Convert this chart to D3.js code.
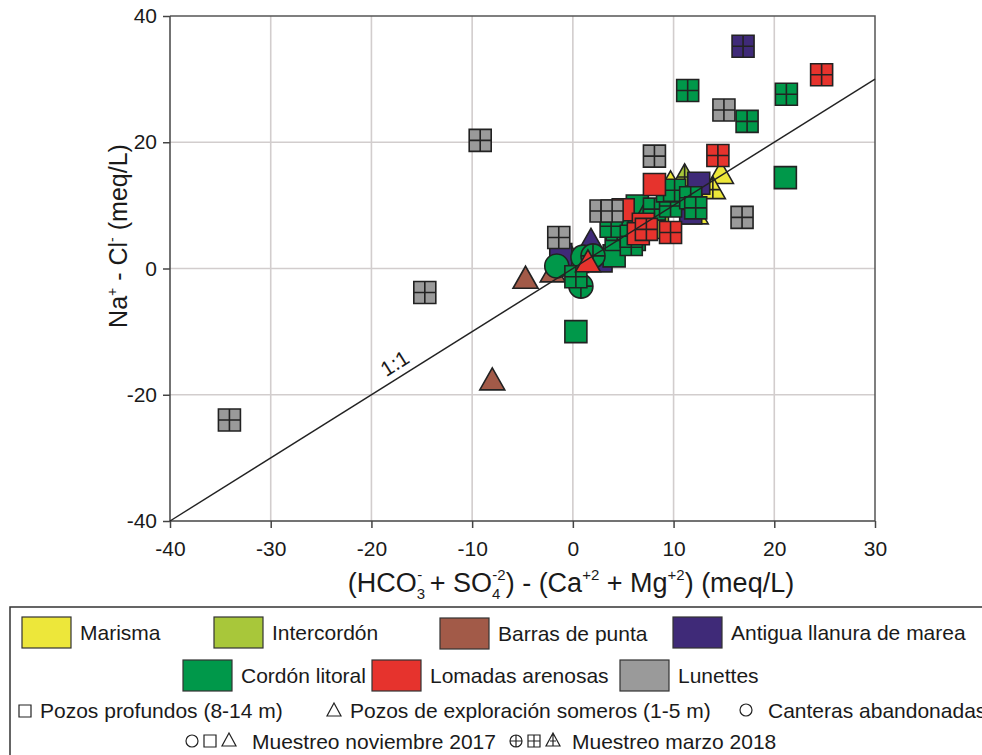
<!DOCTYPE html>
<html>
<head>
<meta charset="utf-8">
<script src="https://cdn.jsdelivr.net/npm/d3@7"></script>
<style>
  html, body { margin: 0; padding: 0; background: #fff; }
  svg { display: block; }
  text { font-family: "Liberation Sans", Arial, sans-serif; fill: #1a1a1a; }
  .tick text { font-size: 21px; }
</style>
</head>
<body>
<svg id="chart" width="982" height="755"></svg>
<script>
// Each sample: [x, y, well type, campaign]
//   x = (HCO3 + SO4) - (Ca + Mg), y = Na - Cl   (meq/L)
//   well type: P = pozo profundo, S = pozo somero, C = cantera
//   campaign:  N = noviembre 2017, M = marzo 2018
const marisma = [
  [14.7, 14.9, "S", "N"], [13.9, 12.5, "S", "M"], [9.7, 13.4, "S", "N"],
  [12.2, 8.5, "S", "N"], [10.6, 11.2, "S", "N"]
];
const intercordon = [
  [11.1, 14.5, "S", "M"], [8.4, 6.5, "P", "N"]
];
const barrasPunta = [
  [-8.0, -17.8, "S", "N"], [-4.7, -1.7, "S", "N"], [-2.0, -0.7, "S", "N"],
  [0.3, 0.8, "S", "N"], [-0.2, 1.7, "S", "M"]
];
const antiguaLlanura = [
  [16.9, 35.2, "P", "M"], [12.5, 13.5, "P", "N"], [11.7, 8.8, "P", "N"],
  [6.8, 9.0, "P", "N"], [-1.2, 2.2, "P", "N"], [2.8, 1.2, "P", "N"],
  [1.8, 4.3, "S", "N"]
];
const cordonLitoral = [
  [11.4, 28.2, "P", "M"], [17.3, 23.3, "P", "M"], [21.2, 27.6, "P", "M"],
  [21.1, 14.4, "P", "N"], [0.3, -10.0, "P", "N"],
  [6.4, 9.9, "P", "N"], [4.1, 2.0, "P", "N"], [4.3, 4.6, "P", "N"],
  [7.0, 8.0, "S", "M"], [5.3, 7.3, "S", "M"], [10.5, 10.8, "S", "M"],
  [-1.6, 0.4, "C", "N"], [1.0, 1.8, "C", "N"], [2.0, 2.0, "C", "M"], [0.8, -2.8, "C", "M"],
  [0.3, -1.3, "P", "M"], [6.1, 4.6, "P", "M"], [5.8, 3.8, "P", "M"],
  [4.4, 6.2, "P", "M"], [3.8, 6.7, "P", "M"], [5.8, 5.1, "P", "M"],
  [8.1, 9.4, "P", "M"], [9.7, 9.9, "P", "M"], [9.4, 12.3, "P", "M"],
  [10.1, 12.4, "P", "M"], [11.7, 11.2, "P", "M"], [12.2, 9.6, "P", "M"]
];
const lomadasArenosas = [
  [8.1, 13.3, "P", "N"], [5.0, 9.3, "P", "N"], [7.0, 7.0, "P", "N"], [6.5, 5.5, "P", "N"],
  [1.5, 0.9, "S", "N"],
  [24.7, 30.7, "P", "M"], [14.4, 17.9, "P", "M"], [7.3, 6.2, "P", "M"], [9.7, 5.7, "P", "M"]
];
const lunettes = [
  [-34.1, -24.0, "P", "M"], [-14.7, -3.8, "P", "M"], [-9.2, 20.3, "P", "M"],
  [8.1, 17.8, "P", "M"], [15.0, 25.1, "P", "M"], [16.8, 8.1, "P", "M"],
  [2.8, 9.1, "P", "M"], [3.9, 9.1, "P", "M"], [-1.4, 4.9, "P", "M"]
];

const unitNames = ["Marisma", "Intercordón", "Barras de punta", "Antigua llanura de marea",
                   "Cordón litoral", "Lomadas arenosas", "Lunettes"];
const unitColors = ["#ede73a", "#a8c73a", "#a25a48", "#3f2a78", "#00984a", "#e6332d", "#9a9a9a"];
const unitData = [marisma, intercordon, barrasPunta, antiguaLlanura, cordonLitoral, lomadasArenosas, lunettes];

const xTicks = [-40, -30, -20, -10, 0, 10, 20, 30];
const yTicks = [-40, -20, 0, 20, 40];
const wellLabels = ["Pozos profundos (8-14 m)", "Pozos de exploración someros (1-5 m)", "Canteras abandonadas"];
const campaignLabels = ["Muestreo noviembre 2017", "Muestreo marzo 2018"];

const svg = d3.select("#chart");
const plot = { left: 170, right: 875, top: 16, bottom: 521 };
const x = d3.scaleLinear().domain([-40, 30]).range([plot.left, plot.right]);
const y = d3.scaleLinear().domain([-40, 40]).range([plot.bottom, plot.top]);

const ink = "#222";
const gridColor = "#d2cdcd";
const fmt = d => String(d);

// grid
svg.append("g").selectAll("line").data(xTicks.filter(t => t > -40 && t < 30)).join("line")
  .attr("x1", d => x(d)).attr("x2", d => x(d)).attr("y1", plot.top).attr("y2", plot.bottom)
  .attr("stroke", gridColor).attr("stroke-width", 1.6);
svg.append("g").selectAll("line").data(yTicks.filter(t => t > -40 && t < 40)).join("line")
  .attr("x1", plot.left).attr("x2", plot.right).attr("y1", d => y(d)).attr("y2", d => y(d))
  .attr("stroke", gridColor).attr("stroke-width", 1.6);

// frame top / right
svg.append("path")
  .attr("d", `M${plot.left},${plot.top}H${plot.right}V${plot.bottom}`)
  .attr("fill", "none").attr("stroke", "#555").attr("stroke-width", 1.5);

// axes
const gx = svg.append("g").attr("transform", `translate(0,${plot.bottom})`)
  .call(d3.axisBottom(x).tickValues(xTicks).tickSize(7).tickPadding(13).tickFormat(fmt));
const gy = svg.append("g").attr("transform", `translate(${plot.left},0)`)
  .call(d3.axisLeft(y).tickValues(yTicks).tickSize(7).tickPadding(6).tickFormat(fmt));
[gx, gy].forEach(g => {
  g.selectAll(".domain, .tick line").attr("stroke", "#444").attr("stroke-width", 1.5);
  g.selectAll(".tick text").attr("fill", "#1a1a1a");
});
gy.select(".domain").attr("d", `M0,${plot.top}V${plot.bottom}`);
gx.select(".domain").attr("d", `M${plot.left},0H${plot.right}`);

// markers
const S = 22; // square side
function markerPath(type, campaign) {
  const h = S / 2;
  if (type === "P") {
    const p = `M${-h},${-h}H${h}V${h}H${-h}Z`;
    return { shape: p, cross: campaign === "M" ? `M0,${-h}V${h}M${-h},0H${h}` : null };
  }
  if (type === "S") {
    const w = 12.5, top = -13, bot = 9;
    const p = `M0,${top}L${w},${bot}L${-w},${bot}Z`;
    const t = (0 - top) / (bot - top);
    return { shape: p, cross: campaign === "M" ? `M0,${top}V${bot}M${-w * t},0H${w * t}` : null };
  }
  const r = 12;
  const p = `M${r},0A${r},${r} 0 1,1 ${-r},0A${r},${r} 0 1,1 ${r},0Z`;
  return { shape: p, cross: campaign === "M" ? `M0,${-r}V${r}M${-r},0H${r}` : null };
}

const pointsG = svg.append("g");
unitData.forEach((arr, i) => {
  const g = pointsG.append("g");
  arr.forEach(d => {
    const m = markerPath(d[2], d[3]);
    const mg = g.append("g").attr("transform", `translate(${x(d[0])},${y(d[1])})`);
    mg.append("path").attr("d", m.shape).attr("fill", unitColors[i])
      .attr("stroke", ink).attr("stroke-width", 1.6).attr("stroke-linejoin", "miter");
    if (m.cross) mg.append("path").attr("d", m.cross).attr("fill", "none")
      .attr("stroke", ink).attr("stroke-width", 1.6);
  });
});

// 1:1 line
svg.append("line")
  .attr("x1", x(-40)).attr("y1", y(-40)).attr("x2", x(30)).attr("y2", y(30))
  .attr("stroke", ink).attr("stroke-width", 1.4);
const ang = Math.atan2(y(30) - y(-40), x(30) - x(-40)) * 180 / Math.PI;
svg.append("text")
  .attr("transform", `translate(${x(-17.3)},${y(-16.0)}) rotate(${ang})`)
  .attr("text-anchor", "middle").attr("font-size", 21).text("1:1");

// axis titles
const yTitle = svg.append("text")
  .attr("transform", `translate(127,236) rotate(-90)`)
  .attr("text-anchor", "middle").attr("font-size", 25);
yTitle.append("tspan").text("Na");
yTitle.append("tspan").attr("font-size", 14).attr("dy", -10).text("+");
yTitle.append("tspan").attr("dy", 10).text(" - Cl");
yTitle.append("tspan").attr("font-size", 14).attr("dy", -10).text("-");
yTitle.append("tspan").attr("dy", 10).text(" (meq/L)");

const xTitle = svg.append("text")
  .attr("x", 571).attr("y", 592).attr("text-anchor", "middle").attr("font-size", 27);
function subSup(sub, sup, back) {
  xTitle.append("tspan").attr("font-size", 15).attr("dy", 7).text(sub);
  xTitle.append("tspan").attr("font-size", 15).attr("dx", -back).attr("dy", -19).text(sup);
}
xTitle.append("tspan").text("(HCO");
subSup("3", "-", 8);
xTitle.append("tspan").attr("dy", 12).text(" + SO");
subSup("4", "-2", 8);
xTitle.append("tspan").attr("dy", 12).text(") - (Ca");
xTitle.append("tspan").attr("font-size", 15).attr("dy", -12).text("+2");
xTitle.append("tspan").attr("dy", 12).text(" + Mg");
xTitle.append("tspan").attr("font-size", 15).attr("dy", -12).text("+2");
xTitle.append("tspan").attr("dy", 12).text(") (meq/L)");

// legend
const lg = svg.append("g");
lg.append("rect").attr("x", 10).attr("y", 607).attr("width", 1000).attr("height", 170)
  .attr("fill", "none").attr("stroke", "#333").attr("stroke-width", 1.5);

const swatchX = [22, 214, 440, 673, 183, 372, 620];
const swatchY = [617, 617, 618, 617, 660, 660, 660];
unitNames.forEach((name, i) => {
  lg.append("rect").attr("x", swatchX[i]).attr("y", swatchY[i]).attr("width", 49).attr("height", 31)
    .attr("fill", unitColors[i]).attr("stroke", "#333").attr("stroke-width", 1.2);
  lg.append("text").attr("x", swatchX[i] + 58).attr("y", swatchY[i] + 23)
    .attr("font-size", 21).text(name);
});

function symbol(g, kind, cx, cy, s) {
  const h = s / 2;
  let d;
  if (kind === "sq" || kind === "sqx") {
    d = `M${cx - h},${cy - h}H${cx + h}V${cy + h}H${cx - h}Z`;
    if (kind === "sqx") d += `M${cx},${cy - h}V${cy + h}M${cx - h},${cy}H${cx + h}`;
  } else if (kind === "tri" || kind === "trix") {
    d = `M${cx},${cy - h - 1}L${cx + h + 1},${cy + h}L${cx - h - 1},${cy + h}Z`;
    if (kind === "trix") d += `M${cx},${cy - h - 1}V${cy + h}M${cx - h / 2},${cy + 1}H${cx + h / 2}`;
  } else {
    d = `M${cx + h},${cy}A${h},${h} 0 1,1 ${cx - h},${cy}A${h},${h} 0 1,1 ${cx + h},${cy}Z`;
    if (kind === "cirx") d += `M${cx},${cy - h}V${cy + h}M${cx - h},${cy}H${cx + h}`;
  }
  g.append("path").attr("d", d).attr("fill", "none").attr("stroke", "#222").attr("stroke-width", 1.2);
}

// well type row
symbol(lg, "sq", 25, 711, 12);
lg.append("text").attr("x", 40).attr("y", 718).attr("font-size", 21).text(wellLabels[0]);
symbol(lg, "tri", 334, 710, 12);
lg.append("text").attr("x", 350).attr("y", 718).attr("font-size", 21).text(wellLabels[1]);
symbol(lg, "cir", 746, 710, 12);
lg.append("text").attr("x", 768).attr("y", 718).attr("font-size", 21).text(wellLabels[2]);

// campaign row
symbol(lg, "cir", 192, 741, 12);
symbol(lg, "sq", 210, 741, 12);
symbol(lg, "tri", 229, 740, 12);
lg.append("text").attr("x", 252).attr("y", 749).attr("font-size", 21).text(campaignLabels[0]);
symbol(lg, "cirx", 516, 741, 12);
symbol(lg, "sqx", 534, 741, 12);
symbol(lg, "trix", 553, 740, 12);
lg.append("text").attr("x", 572).attr("y", 749).attr("font-size", 21).text(campaignLabels[1]);
</script>
</body>
</html>
